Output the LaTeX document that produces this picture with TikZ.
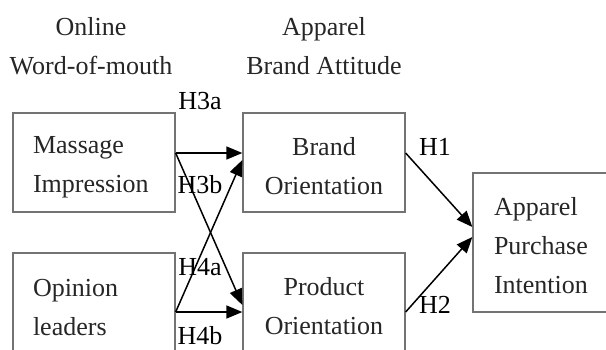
\documentclass[tikz,border=0pt]{standalone}
\usepackage{fontspec}
\setmainfont{Liberation Serif}
\usetikzlibrary{arrows.meta}
\begin{document}
\begin{tikzpicture}[x=1pt,y=-1pt,
  every node/.style={font=\fontsize{26}{39}\selectfont, text=black!85},
  box/.style={draw=black!55, line width=1.3pt, minimum width=162pt,
    minimum height=99pt, inner sep=0pt},
  txtl/.style={align=left, text width=122pt, inner sep=0pt},
  txtc/.style={align=center, text width=150pt, inner sep=0pt},
  link/.style={draw=black, line width=1.5pt,
    -{Triangle[length=16pt,width=13pt]}},
  hyp/.style={inner sep=0pt, text=black}]
\useasboundingbox[fill=white] (0,0) rectangle (606,349);
% column headings
\node[align=center] (hw) at (91,46) {Online\\Word-of-mouth};
\node[align=center] (ha) at (324,46) {Apparel\\Brand Attitude};
% boxes
\node[box] (mi) at (94,162.5) {};
\node[box] (ol) at (94,302.5) {};
\node[box] (bo) at (324,162.5) {};
\node[box] (po) at (324,302.5) {};
\node[box, minimum height=139pt] (pi) at (554,242.5) {};
% box texts
\node[txtl] (mit) at ([yshift=-5pt]mi.center) {Massage\\Impression};
\node[txtl] (olt) at ([yshift=-5pt]ol.center) {Opinion\\leaders};
\node[txtc] (bot) at ([yshift=-4pt]bo.center) {Brand\\Orientation};
\node[txtc] (pot) at ([yshift=-4pt]po.center) {Product\\Orientation};
\node[txtl, text width=120pt] (pit) at ([yshift=-3pt]pi.center)
  {Apparel\\Purchase\\Intention};
% hypotheses paths
\draw[link] ([yshift=9.5pt]mi.east) -- ([yshift=9.5pt]bo.west);
\draw[link] ([yshift=9.5pt]mi.east) -- ([yshift=-2.5pt]po.west);
\draw[link] ([yshift=-9.5pt]ol.east) -- ([yshift=-9.5pt]po.west);
\draw[link] ([yshift=-9.5pt]ol.east) -- ([yshift=2.5pt]bo.west);
\draw[link] ([yshift=9.5pt]bo.east) -- ([yshift=15.5pt]pi.west);
\draw[link] ([yshift=-9.5pt]po.east) -- ([yshift=5.5pt]pi.west);
% labels
\node[hyp] (h3a) at (200,101) {H3a};
\node[hyp] (h3b) at (200,185) {H3b};
\node[hyp] (h4a) at (200,267) {H4a};
\node[hyp] (h4b) at (200,336) {H4b};
\node[hyp] (h1) at (435,147) {H1};
\node[hyp] (h2) at (435,305) {H2};
\end{tikzpicture}
\end{document}
